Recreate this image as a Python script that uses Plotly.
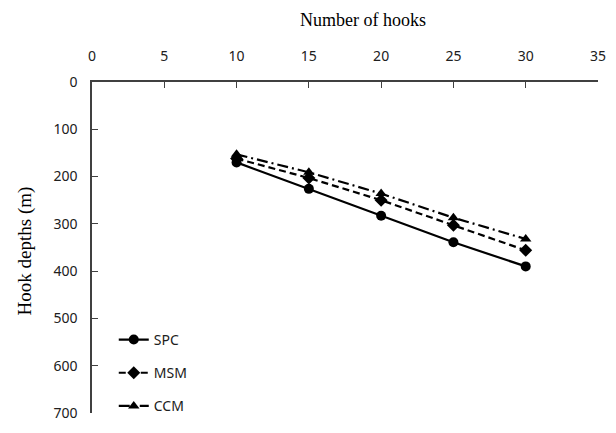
import plotly.graph_objects as go

hooks = [10, 15, 20, 25, 30]
spc = [170, 226, 283, 339, 390]
msm = [162, 203, 250, 303, 356]
ccm = [153, 191, 236, 287, 332]
series_names = ["SPC", "MSM", "CCM"]
x_ticks = [0, 5, 10, 15, 20, 25, 30, 35]
y_ticks = [0, 100, 200, 300, 400, 500, 600, 700]

fig = go.Figure()
styles = [
    (spc, "solid", "circle"),
    (msm, "7px,4px", "diamond"),
    (ccm, "11px,4px,2px,4px", "triangle-up"),
]
for name, (vals, dash, sym) in zip(series_names, styles):
    fig.add_trace(go.Scatter(
        x=hooks, y=vals, name=name, mode="lines+markers",
        legendgroup=name,
        line=dict(color="black", width=2.2, dash=dash),
        marker=dict(symbol=sym, size=10, color="black"),
    ))

axis_common = dict(
    showline=True, linecolor="#404040", linewidth=1.5,
    ticks="inside", ticklen=6, tickcolor="#404040", tickwidth=1.2,
    showgrid=False, zeroline=False,
    tickfont=dict(family="Noto Sans", size=14, color="#202020"),
)

L, R, T, B = 92, 18, 82, 11
pw, ph = 616 - L - R, 433 - T - B

fig.update_layout(
    width=616, height=433,
    margin=dict(l=L, r=R, t=T, b=B),
    plot_bgcolor="white", paper_bgcolor="white",
    xaxis=dict(side="top", range=[0, 35], tickvals=x_ticks,
               ticklabelstandoff=14, **axis_common),
    yaxis=dict(range=[700, 0], tickvals=y_ticks,
               ticklabelstandoff=10, **axis_common),
    legend=dict(x=0.043, y=-0.027, xanchor="left", yanchor="bottom",
                bgcolor="rgba(0,0,0,0)", tracegroupgap=12,
                font=dict(family="Noto Sans", size=14, color="#202020")),
    annotations=[
        dict(text="Number of hooks", xref="paper", yref="paper",
             x=(363 - L) / pw, y=(433 - B - 18) / ph,
             xanchor="center", yanchor="middle", showarrow=False,
             font=dict(family="Liberation Serif", size=18, color="black")),
        dict(text="Hook depths (m)", xref="paper", yref="paper",
             x=(25 - L) / pw, y=(433 - B - 256) / ph, textangle=-90,
             xanchor="center", yanchor="middle", showarrow=False,
             font=dict(family="Liberation Serif", size=19, color="black")),
    ],
)

fig.write_html("out.html")
